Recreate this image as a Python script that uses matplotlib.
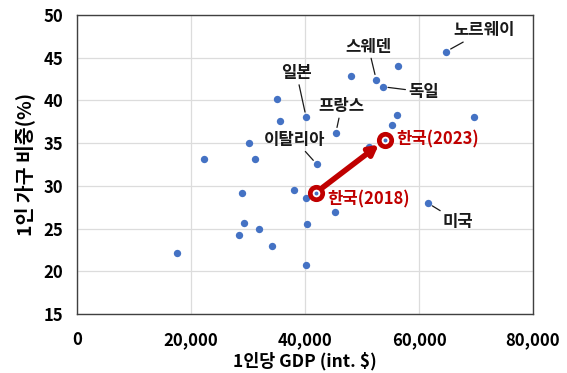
import numpy as np
import matplotlib.pyplot as plt
from matplotlib.ticker import FuncFormatter

plt.rcParams['font.family'] = ['Noto Sans CJK KR', 'DejaVu Sans']

# per-capita GDP (int. $) and share of one-person households (%)
gdp = [17600, 22300, 28400, 28900, 29300, 30200, 31300, 31900, 34200, 35100,
       35600, 38100, 40100, 40100, 40200, 40400, 42100, 45300, 45400, 48100,
       51200, 52500, 53600, 55300, 56100, 56300, 61500, 64700, 69700]
share = [22.2, 33.2, 24.3, 29.2, 25.6, 35.0, 33.1, 24.9, 23.0, 40.2,
         37.6, 29.5, 28.6, 20.7, 38.0, 25.5, 32.5, 26.9, 36.2, 42.9,
         34.6, 42.4, 41.6, 37.1, 38.3, 44.0, 28.0, 45.7, 38.0]

# labelled countries: name, point, label position
lab_names = ['노르웨이', '스웨덴', '독일', '프랑스', '일본', '이탈리아', '미국']
lab_x = [64700, 52500, 53600, 45400, 40200, 42100, 61500]
lab_y = [45.7, 42.4, 41.6, 36.2, 38.0, 32.5, 28.0]
lab_tx = [71500, 51100, 60800, 46400, 38500, 38200, 66900]
lab_ty = [48.2, 46.3, 41.0, 39.3, 43.2, 35.4, 25.8]

korea_years = ['2018', '2023']
korea_gdp = [41900, 54100]
korea_share = [29.2, 35.4]

blue = '#4472C4'
red = '#C00000'

fig = plt.figure(figsize=(5.67, 3.73), dpi=100)
ax = fig.add_axes([0.136, 0.158, 0.804, 0.802])

ax.scatter(gdp, share, s=28, color=blue, zorder=3, linewidths=0)

for name, x, y, tx, ty in zip(lab_names, lab_x, lab_y, lab_tx, lab_ty):
    ax.annotate(name, xy=(x, y), xytext=(tx, ty), ha='center', va='center',
                fontsize=12, fontweight='bold', color='#1a1a1a',
                arrowprops=dict(arrowstyle='-', color='#1a1a1a', lw=0.9,
                                shrinkA=0, shrinkB=4))

# Korea arrow 2018 -> 2023
ax.annotate('', xy=(korea_gdp[1], korea_share[1]), xytext=(korea_gdp[0], korea_share[0]),
            arrowprops=dict(arrowstyle='-|>,head_length=0.55,head_width=0.3', color=red,
                            lw=4, shrinkA=6, shrinkB=6), zorder=4)
ax.scatter(korea_gdp, korea_share, s=80, facecolor='white', edgecolor=red,
           linewidths=3.4, zorder=5)
ax.scatter(korea_gdp, korea_share, s=8, color=blue, zorder=6, linewidths=0)

ax.text(korea_gdp[1] + 2000, korea_share[1], f'한국({korea_years[1]})', color=red,
        fontsize=12, fontweight='bold', ha='left', va='center')
ax.text(korea_gdp[0] + 2000, korea_share[0] - 0.8, f'한국({korea_years[0]})', color=red,
        fontsize=12, fontweight='bold', ha='left', va='center')

ax.set_xlim(0, 80000)
ax.set_ylim(15, 50)
ax.set_xticks(np.arange(0, 80001, 20000))
ax.set_yticks(np.arange(15, 51, 5))
ax.xaxis.set_major_formatter(FuncFormatter(lambda v, p: f'{int(v):,}'))
ax.grid(True, color='#dcdcdc', lw=0.9)
ax.set_axisbelow(True)
ax.tick_params(length=0, pad=10, labelsize=12)
ax.tick_params(axis='x', pad=12)
for lbl in ax.get_xticklabels() + ax.get_yticklabels():
    lbl.set_fontweight('bold')
for sp in ax.spines.values():
    sp.set_color('#404040')
    sp.set_linewidth(1.0)

ax.set_xlabel('1인당 GDP (int. $)', fontsize=12.5, fontweight='bold', labelpad=2)
ax.set_ylabel('1인 가구 비중(%)', fontsize=14, fontweight='bold', labelpad=6)

fig.savefig('out.png', dpi=100)
